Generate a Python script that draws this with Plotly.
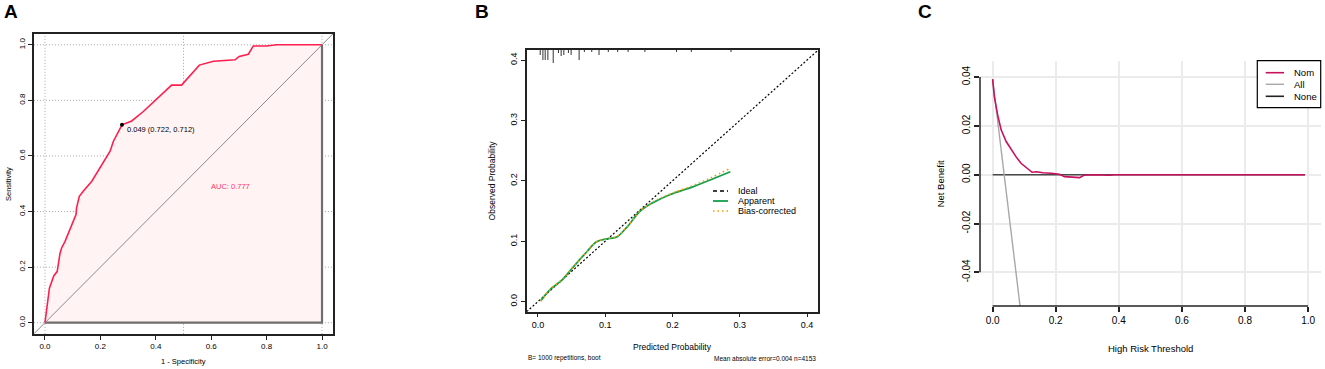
import plotly.graph_objects as go

W, H = 1325, 369
FONT = "Liberation Sans"

# ---------------- Panel A : ROC ----------------
roc_fpr = [0.0, 0.016, 0.032, 0.044, 0.054, 0.060, 0.072, 0.112, 0.114, 0.124, 0.138, 0.169,
           0.235, 0.247, 0.278, 0.313, 0.355, 0.439, 0.457, 0.493, 0.557, 0.608, 0.686,
           0.701, 0.734, 0.752, 0.800, 0.836, 1.0]
roc_tpr = [0.0, 0.124, 0.169, 0.184, 0.248, 0.269, 0.292, 0.389, 0.413, 0.455, 0.473, 0.509,
           0.617, 0.653, 0.712, 0.726, 0.760, 0.840, 0.855, 0.855, 0.927, 0.941, 0.946,
           0.958, 0.966, 0.996, 0.996, 1.0, 1.0]
roc_best_threshold = 0.049
roc_best_spec = 0.722
roc_best_sens = 0.712
roc_auc = 0.777
roc_ticks = [0.0, 0.2, 0.4, 0.6, 0.8, 1.0]
roc_tick_labels = ["0.0", "0.2", "0.4", "0.6", "0.8", "1.0"]
roc_vgrid = [0.0, 0.5, 1.0]

# ---------------- Panel B : calibration ----------------
cal_pred = [0.004, 0.018, 0.036, 0.053, 0.073, 0.087, 0.102, 0.117, 0.132, 0.152, 0.171,
            0.196, 0.230, 0.255, 0.286]
cal_apparent = [0.001, 0.020, 0.036, 0.058, 0.083, 0.099, 0.104, 0.107, 0.123, 0.150, 0.164,
                0.177, 0.190, 0.201, 0.215]
cal_bias = [0.001, 0.020, 0.037, 0.058, 0.083, 0.099, 0.104, 0.108, 0.123, 0.150, 0.165,
            0.178, 0.192, 0.204, 0.221]
rug_x = [0.0034, 0.0074, 0.0108, 0.0148, 0.0227, 0.0305, 0.0345, 0.0385, 0.0453, 0.0493,
         0.0612, 0.069, 0.080, 0.0908, 0.1046, 0.1185, 0.134, 0.159, 0.206, 0.228, 0.287]
rug_freq = [5, 10, 10, 10, 13, 3, 6, 5, 3, 5, 10, 2, 2, 5, 2, 2, 2, 2, 2, 2, 2]
cal_ticks = [0.0, 0.1, 0.2, 0.3, 0.4]
cal_tick_labels = ["0.0", "0.1", "0.2", "0.3", "0.4"]
cal_B = 1000
cal_mae = 0.004
cal_n = 4153
cal_legend = ["Ideal", "Apparent", "Bias-corrected"]

# ---------------- Panel C : decision curve ----------------
dca_thr = [0.0, 0.0054, 0.016, 0.027, 0.043, 0.059, 0.074, 0.090, 0.106, 0.125, 0.140, 0.159,
           0.186, 0.212, 0.228, 0.255, 0.276, 0.289, 0.318, 0.372, 0.385, 0.6, 0.8, 0.99]
dca_nom = [0.0392, 0.032, 0.0245, 0.0184, 0.0136, 0.0101, 0.0074, 0.0047, 0.0030, 0.0010,
           0.0012, 0.0008, 0.0006, 0.0002, -0.0008, -0.0011, -0.0012, -0.0002, 0.0, -0.0002,
           0.0, 0.0, 0.0, 0.0]
dca_all_thr = [0.0, 0.087]
dca_all = [0.0392, -0.0539]
dca_none_thr = [0.0, 0.99]
dca_none = [0.0, 0.0]
dca_xticks = [0.0, 0.2, 0.4, 0.6, 0.8, 1.0]
dca_xtick_labels = ["0.0", "0.2", "0.4", "0.6", "0.8", "1.0"]
dca_yticks = [-0.04, -0.02, 0.0, 0.02, 0.04]
dca_ytick_labels = ["-0.04", "-0.02", "0.00", "0.02", "0.04"]
dca_legend = ["Nom", "All", "None"]

RED = "#FF1F4F"
GREEN = "#12A04A"
ORANGE = "#F2A000"
NOM = "#C8105E"


def px(xp):
    return xp / W


def py(yp):
    return 1 - yp / H


fig = go.Figure()

# ---- A traces
fig.add_trace(go.Scatter(x=roc_fpr, y=roc_tpr, mode="lines", line=dict(width=0, color=RED),
                         fill="tozeroy", fillcolor="#FFF3F4", xaxis="x", yaxis="y",
                         hoverinfo="skip"))
a_lo, a_hi = -0.04, 1.04
fig.add_trace(go.Scatter(x=[a_lo, a_hi], y=[a_lo, a_hi], mode="lines",
                         line=dict(color="#8A8A8A", width=1), xaxis="x", yaxis="y"))
fig.add_trace(go.Scatter(x=[roc_fpr[0], roc_fpr[-1], roc_fpr[-1]],
                         y=[roc_tpr[0], roc_tpr[0], roc_tpr[-1]], mode="lines",
                         line=dict(color="#6E6E6E", width=2.2), xaxis="x", yaxis="y"))
fig.add_trace(go.Scatter(x=roc_fpr, y=roc_tpr, mode="lines", line=dict(color=RED, width=1.6),
                         xaxis="x", yaxis="y"))
fig.add_trace(go.Scatter(x=[1 - roc_best_spec], y=[roc_best_sens], mode="markers",
                         marker=dict(color="black", size=4), xaxis="x", yaxis="y"))

# ---- B traces
b_lo, b_hi = -0.0167, 0.4167
fig.add_trace(go.Scatter(x=[b_lo, b_hi], y=[b_lo, b_hi], mode="lines",
                         line=dict(color="black", width=1.2, dash="2px,2px"),
                         xaxis="x2", yaxis="y2"))
rx, ry = [], []
for xv, f in zip(rug_x, rug_freq):
    rx += [xv, xv, None]
    ry += [b_hi, b_hi - f * 0.00166, None]
fig.add_trace(go.Scatter(x=rx, y=ry, mode="lines", line=dict(color="#333333", width=1),
                         xaxis="x2", yaxis="y2"))
fig.add_trace(go.Scatter(x=cal_pred, y=cal_apparent, mode="lines",
                         line=dict(color=GREEN, width=1.8, shape="spline"),
                         xaxis="x2", yaxis="y2"))
fig.add_trace(go.Scatter(x=cal_pred, y=cal_bias, mode="lines",
                         line=dict(color=ORANGE, width=1.6, dash="1.5px,3px", shape="spline"),
                         xaxis="x2", yaxis="y2"))

# ---- C traces
fig.add_trace(go.Scatter(x=dca_none_thr, y=dca_none, mode="lines",
                         line=dict(color="#4A4A4A", width=1.6), xaxis="x3", yaxis="y3"))
fig.add_trace(go.Scatter(x=dca_all_thr, y=dca_all, mode="lines",
                         line=dict(color="#A8A8A8", width=1.4), xaxis="x3", yaxis="y3"))
fig.add_trace(go.Scatter(x=dca_thr, y=dca_nom, mode="lines", line=dict(color=NOM, width=1.6),
                         xaxis="x3", yaxis="y3"))

shapes = []
# A gridlines (dotted)
for v in roc_ticks:
    shapes.append(dict(type="line", xref="x domain", yref="y", x0=0, x1=1, y0=v, y1=v,
                       line=dict(color="#A5A5A5", width=1, dash="1px,2px"), layer="below"))
for v in roc_vgrid:
    shapes.append(dict(type="line", xref="x", yref="y domain", x0=v, x1=v, y0=0, y1=1,
                       line=dict(color="#A5A5A5", width=1, dash="1px,2px"), layer="below"))
# C axis lines (R style, spanning ticks only)
shapes.append(dict(type="line", xref="x3 domain", yref="y3", x0=0, x1=0,
                   y0=dca_yticks[0], y1=dca_yticks[-1], line=dict(color="#222", width=1.5)))
shapes.append(dict(type="line", xref="x3", yref="y3 domain", x0=dca_xticks[0], x1=dca_xticks[-1],
                   y0=0, y1=0, line=dict(color="#222", width=1.5)))

# B legend (custom, tight spacing)
b_leg_styles = [dict(color="black", width=1.6, dash="4px,3px"),
                dict(color=GREEN, width=1.8),
                dict(color=ORANGE, width=1.6, dash="1.5px,3px")]
annotations = []
for i, (name, st) in enumerate(zip(cal_legend, b_leg_styles)):
    yy = 191 + 10 * i
    shapes.append(dict(type="line", xref="paper", yref="paper", x0=px(713), x1=px(728),
                       y0=py(yy), y1=py(yy), line=st))
    annotations.append(dict(text=name, xref="paper", yref="paper", x=px(735.5), y=py(yy),
                            xanchor="left", yanchor="middle", showarrow=False,
                            font=dict(family=FONT, size=9, color="black")))

# C legend box
shapes.append(dict(type="rect", xref="paper", yref="paper", x0=px(1257.3), x1=px(1320.7),
                   y0=py(107.7), y1=py(60.7), line=dict(color="black", width=1.2),
                   fillcolor="white"))
c_leg_styles = [dict(color=NOM, width=1.6), dict(color="#A8A8A8", width=1.4),
                dict(color="#222", width=1.6)]
for i, (name, st) in enumerate(zip(dca_legend, c_leg_styles)):
    yy = [72.7, 84.3, 96.3][i]
    shapes.append(dict(type="line", xref="paper", yref="paper", x0=px(1265.7), x1=px(1284),
                       y0=py(yy), y1=py(yy), line=st))
    annotations.append(dict(text=name, xref="paper", yref="paper", x=px(1291.5), y=py(yy),
                            xanchor="left", yanchor="middle", showarrow=False,
                            font=dict(family=FONT, size=9.5, color="black")))


def ann(text, x, y, size, angle=0, color="black", xanchor="center", bold=False):
    annotations.append(dict(text=text, xref="paper", yref="paper", x=px(x), y=py(y),
                            xanchor=xanchor, yanchor="middle", showarrow=False, textangle=angle,
                            font=dict(family=FONT, size=size, color=color,
                                      weight="bold" if bold else "normal")))


# panel letters
ann("A", 11, 11, 19, bold=True)
ann("B", 482, 11, 19, bold=True)
ann("C", 925, 11, 19, bold=True)
# axis titles
ann("Sensitivity", 8.3, 183.7, 7.5, angle=-90)
ann("1 - Specificity", 183, 361, 7.5)
ann("Observed Probability", 491.7, 180.7, 8.5, angle=-90)
ann("Predicted Probability", 672.5, 346.7, 8.5)
ann("Net Benefit", 940, 183.3, 9.5, angle=-90)
ann("High Risk Threshold", 1150.3, 348, 9.5)
# B footnotes
ann(f"B= {cal_B} repetitions, boot", 526, 358, 6.5, xanchor="left")
ann(f"Mean absolute error={cal_mae:.3f} n={cal_n}", 818.3, 358, 6.5, xanchor="right")

# A texts in data coords
annotations.append(dict(text=f"AUC: {roc_auc:.3f}", xref="x", yref="y", x=0.668, y=0.49,
                        showarrow=False, font=dict(family=FONT, size=7.5, color="#FF3366")))
annotations.append(dict(text=f"{roc_best_threshold:.3f} ({roc_best_spec:.3f}, {roc_best_sens:.3f})",
                        xref="x", yref="y", x=1 - roc_best_spec + 0.01, y=roc_best_sens - 0.017,
                        xanchor="left", yanchor="middle", showarrow=False,
                        font=dict(family=FONT, size=7.5, color="black")))

box_axis = dict(showline=True, mirror=True, linecolor="#222", linewidth=1.5, ticks="outside",
                ticklen=4, tickcolor="#222", tickwidth=1, showgrid=False, zeroline=False)

fig.update_layout(
    width=W, height=H, margin=dict(l=0, r=0, t=0, b=0),
    paper_bgcolor="white", plot_bgcolor="white", showlegend=False,
    xaxis=dict(domain=[px(33.9), px(333.1)], range=[a_lo, a_hi], anchor="y",
               tickvals=roc_ticks, ticktext=roc_tick_labels,
               tickfont=dict(family=FONT, size=8, color="black"), **box_axis),
    yaxis=dict(domain=[py(333.8), py(33.7)], range=[a_lo, a_hi], anchor="x",
               tickvals=roc_ticks, ticktext=roc_tick_labels, tickangle=-90,
               tickfont=dict(family=FONT, size=8, color="black"), **box_axis),
    xaxis2=dict(domain=[px(526.7), px(818.3)], range=[b_lo, b_hi], anchor="y2",
                tickvals=cal_ticks, ticktext=cal_tick_labels,
                tickfont=dict(family=FONT, size=9, color="black"), **box_axis),
    yaxis2=dict(domain=[py(311.7), py(50)], range=[b_lo, b_hi], anchor="x2",
                tickvals=cal_ticks, ticktext=cal_tick_labels, tickangle=-90,
                tickfont=dict(family=FONT, size=9, color="black"), **box_axis),
    xaxis3=dict(domain=[px(980), px(1320.7)], range=[-0.04, 1.04], anchor="y3",
                tickvals=dca_xticks, ticktext=dca_xtick_labels, showline=False,
                showgrid=True, gridcolor="#EBEBEB", gridwidth=1.5, zeroline=False,
                ticks="outside", ticklen=5, tickcolor="#222", tickwidth=1.5,
                tickfont=dict(family=FONT, size=10, color="black")),
    yaxis3=dict(domain=[py(306), py(61)], range=[-0.0538, 0.0466], anchor="x3",
                tickvals=dca_yticks, ticktext=dca_ytick_labels, tickangle=-90, showline=False,
                showgrid=True, gridcolor="#EBEBEB", gridwidth=1.5, zeroline=False,
                ticks="outside", ticklen=5, tickcolor="#222", tickwidth=1.5,
                tickfont=dict(family=FONT, size=10, color="black")),
    shapes=shapes, annotations=annotations,
)

fig.write_html("out.html", config={"displayModeBar": False},
               post_script="document.body.style.margin='0';document.body.style.overflow='hidden';")
